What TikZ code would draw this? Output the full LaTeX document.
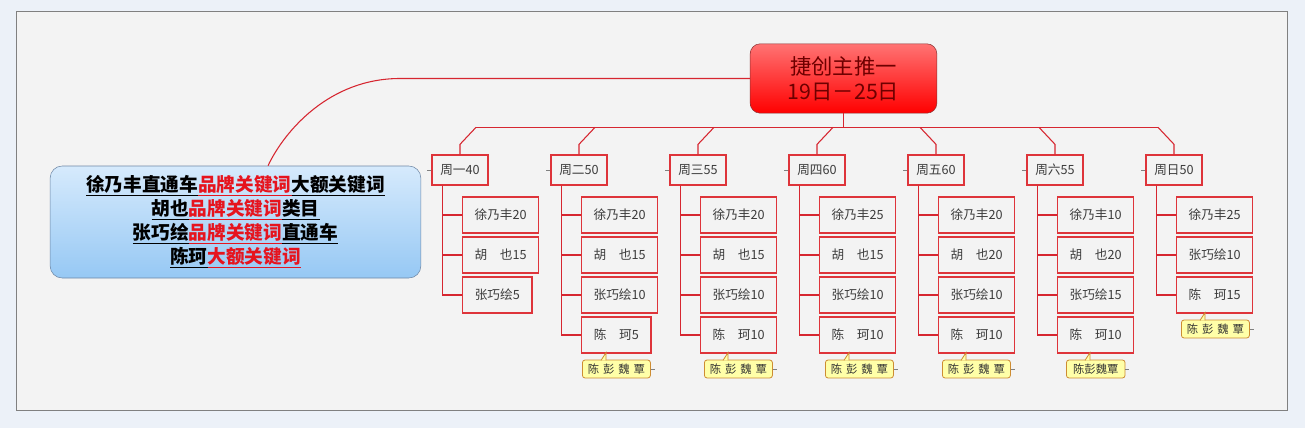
\documentclass[tikz,border=0pt]{standalone}
\usepackage{fontspec}
\newfontfamily\cjk{Noto Sans CJK SC}
\usetikzlibrary{positioning}
\usetikzlibrary{calc}

\definecolor{linkred}{RGB}{214,38,48}
\definecolor{boxred}{RGB}{222,52,58}
\definecolor{boxfill}{RGB}{243,243,243}
\definecolor{pagebg}{RGB}{236,241,248}
\definecolor{framegray}{RGB}{128,128,128}
\definecolor{rootdark}{RGB}{110,0,0}
\definecolor{notefill}{RGB}{255,255,168}
\definecolor{noteline}{RGB}{205,140,50}
\definecolor{infoline}{RGB}{110,135,165}
\definecolor{infotop}{RGB}{214,234,252}
\definecolor{infobot}{RGB}{150,200,244}
\definecolor{kwred}{RGB}{230,20,30}
\definecolor{txtgray}{RGB}{60,60,60}

\tikzset{
  link/.style={draw=linkred, line width=0.8pt},
  day/.style={draw=boxred, fill=boxfill, line width=1pt, minimum width=42pt, minimum height=22.5pt, inner sep=0pt, text=txtgray, font=\cjk\fontsize{9.5}{11}\selectfont},
  kid/.style={day, anchor=west, minimum width=57pt, minimum height=27pt},
  kidn/.style={kid, minimum width=52pt},
  note/.style={draw=noteline, fill=notefill, line width=0.6pt, rounded corners=2pt, anchor=west, minimum width=51pt, minimum height=13.5pt, inner sep=0pt, text=black!80, font=\cjk\fontsize{8.5}{9}\selectfont},
  notetab/.style={fill=notefill, draw=noteline, line width=0.6pt},
  stub/.style={draw=gray, line width=0.6pt},
}
\newcommand{\txtu}[1]{\underline{#1}}
\newcommand{\kw}[1]{{\color{kwred}\underline{#1}}}
\newcommand{\spnames}{陈\hspace{0.35em}彭\hspace{0.35em}魏\hspace{0.35em}覃}

\begin{document}
\begin{tikzpicture}[x=0.75pt, y=-0.75pt, font=\cjk]
  \fill[pagebg] (0,0) rectangle (1305,428);
  \draw[framegray, fill=boxfill] (16,11) rectangle (1287,410);

  % root and keyword box
  \node[draw=rootdark!80, top color=red!55, middle color=red, bottom color=red, rounded corners=7.5pt, minimum width=140pt, minimum height=52pt, text=rootdark, align=center, font=\cjk\fontsize{16}{19}\selectfont] (root) at (843.5,78.5) {捷创主推一\\19日－25日};
  \node[draw=infoline, top color=infotop, bottom color=infobot, rounded corners=9pt, minimum width=278pt, minimum height=84pt, align=center, font=\cjk\bfseries\fontsize{14}{18}\selectfont] (info) at (235.5,222)
    {\txtu{徐乃丰直通车}\kw{品牌关键词}\txtu{大额关键词}\\
     \txtu{胡也}\kw{品牌关键词}\txtu{类目}\\
     \txtu{张巧绘}\kw{品牌关键词}\txtu{直通车}\\
     \txtu{陈珂}\kw{大额关键词}};
  \draw[link] (root.west) -- (400,78.5) .. controls (330,78.5) and (285,130) .. (info.60);

  % days
  \node[day] (d1) at (460,170) {周一40};
  \node[day] (d2) at (579,170) {周二50};
  \node[day] (d3) at (698,170) {周三55};
  \node[day] (d4) at (817,170) {周四60};
  \node[day] (d5) at (936,170) {周五60};
  \node[day] (d6) at (1055,170) {周六55};
  \node[day] (d7) at (1174,170) {周日50};

  \draw[link] (root.south) -- ++(0,15);
  \foreach \d in {d1,d2,d3,d4} \draw[link] (\d.north) -- ++(0,-10) -- ++(16,-17);
  \foreach \d in {d5,d6,d7} \draw[link] (\d.north) -- ++(0,-10) -- ++(-16,-17);
  \draw[link] ($(d1.north)+(16,-27)$) -- ($(d7.north)+(-16,-27)$);
  \foreach \i in {1,...,7} \draw[stub] (d\i.west) -- ++(-4,0);

  % people per day
  \node[kid] (a1) at (462,215) {徐乃丰20};
  \node[kid] (a2) at (462,255) {胡\hspace{1em}也15};
  \node[kidn] (a3) at (462,295) {张巧绘5};

  \node[kid] (b1) at (581,215) {徐乃丰20};
  \node[kid] (b2) at (581,255) {胡\hspace{1em}也15};
  \node[kid] (b3) at (581,295) {张巧绘10};
  \node[kidn] (b4) at (581,335) {陈\hspace{1em}珂5};

  \node[kid] (c1) at (700,215) {徐乃丰20};
  \node[kid] (c2) at (700,255) {胡\hspace{1em}也15};
  \node[kid] (c3) at (700,295) {张巧绘10};
  \node[kid] (c4) at (700,335) {陈\hspace{1em}珂10};

  \node[kid] (e1) at (819,215) {徐乃丰25};
  \node[kid] (e2) at (819,255) {胡\hspace{1em}也15};
  \node[kid] (e3) at (819,295) {张巧绘10};
  \node[kid] (e4) at (819,335) {陈\hspace{1em}珂10};

  \node[kid] (f1) at (938,215) {徐乃丰20};
  \node[kid] (f2) at (938,255) {胡\hspace{1em}也20};
  \node[kid] (f3) at (938,295) {张巧绘10};
  \node[kid] (f4) at (938,335) {陈\hspace{1em}珂10};

  \node[kid] (g1) at (1057,215) {徐乃丰10};
  \node[kid] (g2) at (1057,255) {胡\hspace{1em}也20};
  \node[kid] (g3) at (1057,295) {张巧绘15};
  \node[kid] (g4) at (1057,335) {陈\hspace{1em}珂10};

  \node[kid] (h1) at (1176,215) {徐乃丰25};
  \node[kid] (h2) at (1176,255) {张巧绘10};
  \node[kid] (h3) at (1176,295) {陈\hspace{1em}珂15};

  \foreach \k in {a1,a2,a3} \draw[link] ($(d1.south west)+(11,0)$) |- (\k.west);
  \foreach \k in {b1,b2,b3,b4} \draw[link] ($(d2.south west)+(11,0)$) |- (\k.west);
  \foreach \k in {c1,c2,c3,c4} \draw[link] ($(d3.south west)+(11,0)$) |- (\k.west);
  \foreach \k in {e1,e2,e3,e4} \draw[link] ($(d4.south west)+(11,0)$) |- (\k.west);
  \foreach \k in {f1,f2,f3,f4} \draw[link] ($(d5.south west)+(11,0)$) |- (\k.west);
  \foreach \k in {g1,g2,g3,g4} \draw[link] ($(d6.south west)+(11,0)$) |- (\k.west);
  \foreach \k in {h1,h2,h3} \draw[link] ($(d7.south west)+(11,0)$) |- (\k.west);

  % notes
  \node[note] (nb) at (582,369) {\spnames};
  \node[note] (nc) at (704,369) {\spnames};
  \node[note] (ne) at (825,369) {\spnames};
  \node[note] (nf) at (942,369) {\spnames};
  \node[note, minimum width=44pt] (ng) at (1066,369) {陈彭魏覃};
  \node[note] (nh) at (1181,329) {\spnames};
  \foreach \n in {nb,nc,ne,nf,ng,nh} {
    \filldraw[notetab] ($(\n.north west)+(19,0.8)$) -- ++(5,-7.8) -- ++(0,7.8);
    \draw[stub] (\n.east) -- ++(4,0);
  }
\end{tikzpicture}
\end{document}
